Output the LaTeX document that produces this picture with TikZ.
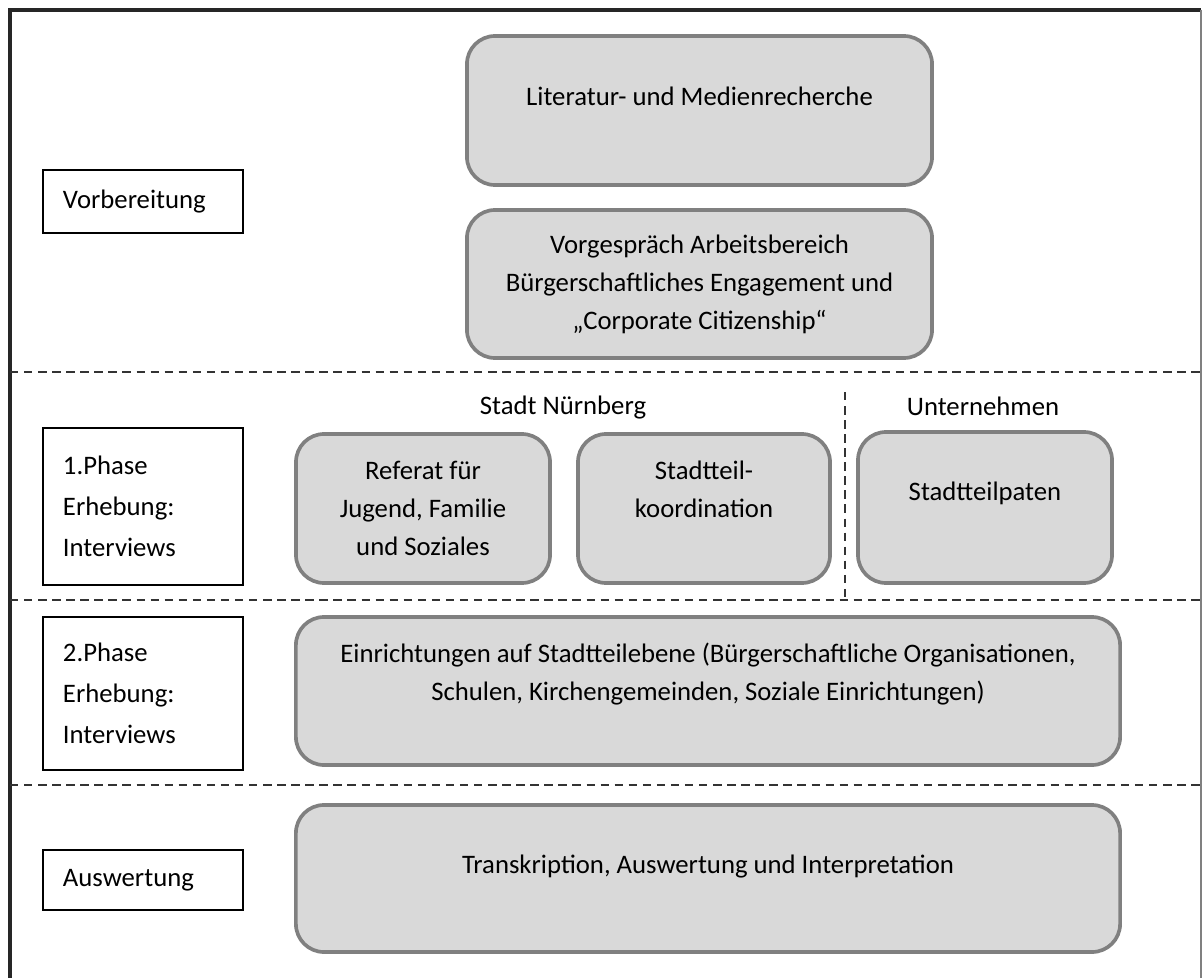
\documentclass[tikz,border=0pt]{standalone}
\usepackage{fontspec}
\setmainfont{Carlito}
\definecolor{boxline}{HTML}{808080}
\definecolor{boxfill}{HTML}{D9D9D9}
\begin{document}
\begin{tikzpicture}[x=0.025cm,y=-0.025cm,
		font=\fontsize{19}{27}\selectfont,
		phase/.style={draw=black,line width=1pt,text width=4cm,inner xsep=0.5cm,inner ysep=0pt,align=left},
		task/.style={draw=boxline,fill=boxfill,line width=2.6pt,rounded corners=20pt,align=center},
		sep/.style={draw=black!80,line width=1.5pt,dash pattern=on 6pt off 4pt}]
			\useasboundingbox (0,0) rectangle (1203,978);
			% frame
			\draw[line width=2.2pt,black!85] (10,978) -- (10,10) -- (1201,10);
			\draw[line width=1pt,black!50] (1201,10) -- (1201,978);
			\foreach \y in {372,600,785} {
				\draw[sep] (10,\y) -- (1201,\y);
			};
			\draw[sep] (845,392) -- (845,600);
			% phases
			\node[phase,minimum height=1.575cm] (vorb) at (143,201.5) {Vorbereitung};
			\node[phase,minimum height=3.925cm,font=\fontsize{19}{29}\selectfont] (phase1) at (143,506.5) {1.Phase\\Erhebung:\\Interviews};
			\node[phase,minimum height=3.825cm,font=\fontsize{19}{29}\selectfont] (phase2) at (143,693.5) {2.Phase\\Erhebung:\\Interviews};
			\node[phase,minimum height=1.5cm] (ausw) at (143,880) {Auswertung};
			% headers
			\node (stadt) at (563,408) {Stadt Nürnberg};
			\node (untern) at (983,406) {Unternehmen};
			% tasks
			\node[task,minimum width=11.625cm,minimum height=3.725cm] (lit) at (699.5,110.5) {Literatur- und Medienrecherche\\[-6pt]\mbox{}};
			\node[task,minimum width=11.625cm,minimum height=3.7cm] (vorg) at (699.5,284) {Vorgespräch Arbeitsbereich\\Bürgerschaftliches Engagement und\\„Corporate Citizenship“};
			\node[task,minimum width=6.35cm,minimum height=3.725cm] (ref) at (423,508.5) {Referat für\\Jugend, Familie\\und Soziales};
			\node[task,minimum width=6.3cm,minimum height=3.725cm] (koord) at (704,508.5) {Stadtteil-\\koordination\\\mbox{}};
			\node[task,minimum width=6.35cm,minimum height=3.775cm] (paten) at (985,507.5) {Stadtteilpaten\\[-4pt]\mbox{}};
			\node[task,minimum width=20.6cm,minimum height=3.7cm] (einr) at (708,691) {Einrichtungen auf Stadtteilebene (Bürgerschaftliche Organisationen,\\Schulen, Kirchengemeinden, Soziale Einrichtungen)\\\mbox{}};
			\node[task,minimum width=20.6cm,minimum height=3.675cm] (trans) at (708,878.5) {Transkription, Auswertung und Interpretation\\[-6pt]\mbox{}};
		\end{tikzpicture}
\end{document}
